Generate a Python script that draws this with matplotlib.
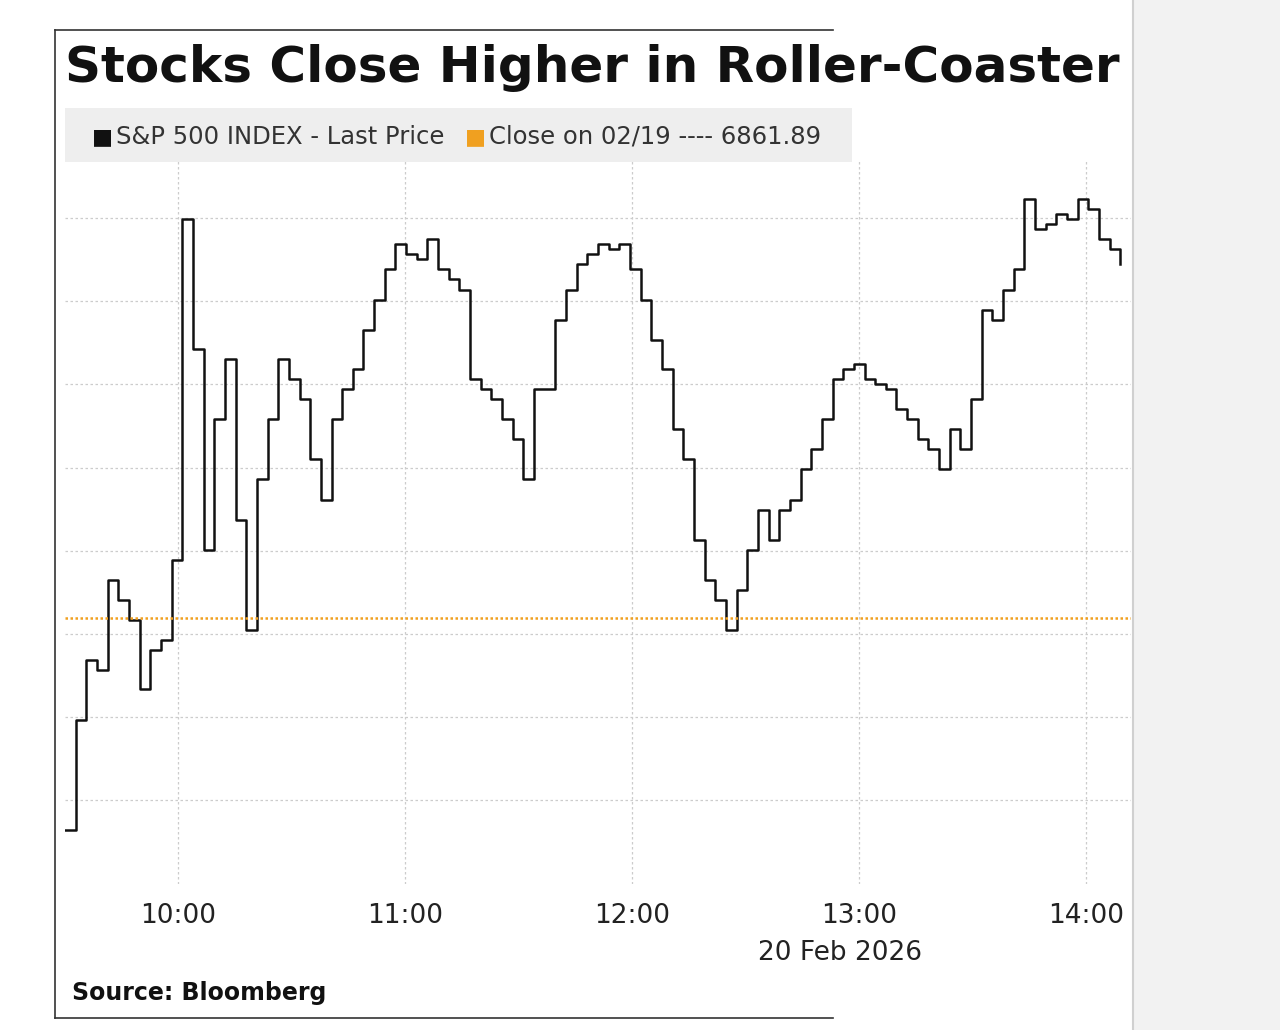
import matplotlib
matplotlib.use("Agg")
import matplotlib.pyplot as plt
from matplotlib.patches import Rectangle
import numpy as np

# ── Data: S&P 500 intraday (steps from 09:30) ────────────────────────────────
PREV_CLOSE = 6861.89
START_MIN = 9 * 60 + 30
STEP_MIN = 2.82
prices = [
    6836.4, 6849.6, 6856.9, 6855.7, 6866.5, 6864.1, 6861.7, 6853.3, 6858.1, 6859.3,
    6868.9, 6909.9, 6894.3, 6870.1, 6885.8, 6893.0, 6873.7, 6860.5, 6878.6, 6885.8,
    6893.0, 6890.6, 6888.2, 6881.0, 6876.1, 6885.8, 6889.4, 6891.8, 6896.6, 6900.2,
    6903.9, 6906.9, 6905.7, 6905.1, 6907.5, 6903.9, 6902.7, 6901.4, 6890.6, 6889.4,
    6888.2, 6885.8, 6883.4, 6878.6, 6889.4, 6889.4, 6897.8, 6901.4, 6904.5, 6905.7,
    6906.9, 6906.3, 6906.9, 6903.9, 6900.2, 6895.4, 6891.8, 6884.6, 6881.0, 6871.3,
    6866.5, 6864.1, 6860.5, 6865.3, 6870.1, 6874.9, 6871.3, 6874.9, 6876.1, 6879.8,
    6882.2, 6885.8, 6890.6, 6891.8, 6892.4, 6890.6, 6890.0, 6889.4, 6887.0, 6885.8,
    6883.4, 6882.2, 6879.8, 6884.6, 6882.2, 6888.2, 6899.0, 6897.8, 6901.4, 6903.9,
    6912.3, 6908.7, 6909.3, 6910.5, 6909.9, 6912.3, 6911.1, 6907.5, 6906.3, 6904.5,
]
tick_hours = ["10:00", "11:00", "12:00", "13:00", "14:00"]
date_label = "20 Feb 2026"

minutes = START_MIN + STEP_MIN * np.arange(len(prices))

W, H = 1280, 1030
fig = plt.figure(figsize=(W / 100, H / 100), dpi=100)
fig.patch.set_facecolor("white")

ax_l, ax_r, ax_t, ax_b = 65, 1131, 160, 884
ax = fig.add_axes([ax_l / W, 1 - ax_b / H, (ax_r - ax_l) / W, (ax_b - ax_t) / H])
ax.step(minutes, prices, where="post", color="#111111", lw=1.8)
ax.axhline(PREV_CLOSE, color="#f0a020", lw=1.8, ls=(0, (1, 1)))

ax.set_xlim(START_MIN, 14 * 60 + 12)
ax.set_ylim(6829.9, 6917)
ticks = [int(t[:2]) * 60 for t in tick_hours]
ax.set_xticks(ticks)
ax.set_xticklabels(tick_hours, fontsize=19, color="#222222")
ax.set_yticks(np.arange(6840, 6920, 10))
ax.yaxis.set_tick_params(length=0, labelleft=False)
ax.tick_params(axis="x", length=0, pad=14)
ax.grid(True, color="#cccccc", ls=(0, (2, 2)), lw=0.9)
for s in ax.spines.values():
    s.set_visible(False)

fig.text(840 / W, 1 - 953 / H, date_label, fontsize=19, color="#222222",
         ha="center", va="center")

# Title and legend
fig.text(65 / W, 1 - 68 / H, "Stocks Close Higher in Roller-Coaster Session",
         fontsize=36, fontweight="bold", va="center", ha="left", color="#111111")
fig.patches.append(Rectangle((65 / W, 1 - 162 / H), (852 - 65) / W, 54 / H,
                             transform=fig.transFigure, facecolor="#eeeeee",
                             edgecolor="none", zorder=0))
fig.text(92 / W, 1 - 137 / H, "\u25a0", fontsize=16, color="#111111", va="center")
fig.text(116 / W, 1 - 137 / H, "S&P 500 INDEX - Last Price", fontsize=17.5,
         color="#333333", va="center")
fig.text(465 / W, 1 - 137 / H, "\u25a0", fontsize=16, color="#f0a020", va="center")
fig.text(489 / W, 1 - 137 / H, f"Close on 02/19 ---- {PREV_CLOSE:.2f}", fontsize=17.5,
         color="#333333", va="center")
fig.text(72 / W, 1 - 993 / H, "Source: Bloomberg", fontsize=17, fontweight="bold",
         color="#111111", va="center")

# Frame and grey side panel (covers the end of the title, as in the original)
fig.add_artist(plt.Line2D([55 / W, 55 / W], [1 - 30 / H, 1 - 1018 / H], color="#333333", lw=1.2))
fig.add_artist(plt.Line2D([55 / W, 833 / W], [1 - 30 / H, 1 - 30 / H], color="#333333", lw=1.2))
fig.add_artist(plt.Line2D([55 / W, 833 / W], [1 - 1018 / H, 1 - 1018 / H], color="#333333", lw=1.2))
fig.add_artist(Rectangle((1133 / W, 0), (W - 1133) / W, 1, transform=fig.transFigure,
                         facecolor="#f2f2f2", edgecolor="none", zorder=10))
fig.add_artist(plt.Line2D([1133 / W, 1133 / W], [0, 1], color="#d0d0d0", lw=1.5, zorder=11))

fig.savefig("out.png", dpi=100, facecolor="white")
